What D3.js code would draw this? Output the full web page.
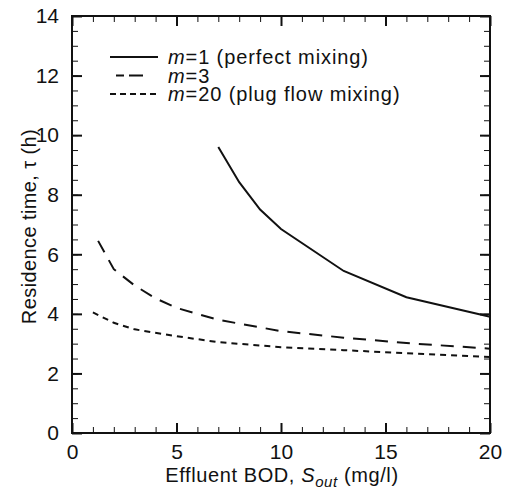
<!DOCTYPE html>
<html>
<head>
<meta charset="utf-8">
<script src="https://cdn.jsdelivr.net/npm/d3@7"></script>
<style>
  body { margin: 0; background: #fff; }
  svg text { font-family: "Liberation Sans", Arial, sans-serif; fill: #111; }
</style>
</head>
<body>
<svg id="chart" width="505" height="491"></svg>
<script>
var width = 505;
var height = 491;
var svg = d3.select('#chart');

// data
var seriesNames = ['m1', 'm3', 'm20'];
var m1X = [7, 8, 9, 10, 13, 16, 20];
var m1Y = [9.6, 8.42, 7.5, 6.85, 5.44, 4.56, 3.9];
var m3X = [1.25, 2, 3, 4, 5, 7, 10, 13, 16, 20];
var m3Y = [6.45, 5.5, 4.95, 4.52, 4.2, 3.8, 3.42, 3.2, 3.02, 2.83];
var m20X = [1, 2, 3, 5, 7, 10, 13, 16, 20];
var m20Y = [4.05, 3.7, 3.48, 3.25, 3.05, 2.88, 2.78, 2.68, 2.55];

var xTicks = [0, 5, 10, 15, 20];
var yTicks = [0, 2, 4, 6, 8, 10, 12, 14];

var padding = { t: 16, r: 15, b: 58, l: 72 };
var chartWidth = width - padding.l - padding.r;
var chartHeight = height - padding.t - padding.b;

var xScale = d3.scaleLinear().domain([0, 20]).range([0, chartWidth]);
var yScale = d3.scaleLinear().domain([0, 14]).range([chartHeight, 0]);

var g = svg.append('g')
    .attr('transform', 'translate(' + padding.l + ',' + padding.t + ')');

// inward ticks on all four sides: minor then major
function tickAxes(axisFn, scale, minorVals, majorVals, transform, pad, labels) {
    g.append('g')
        .attr('transform', transform)
        .call(axisFn(scale).tickValues(minorVals).tickSize(-6).tickFormat(''))
        .call(a => a.select('.domain').remove());
    var ax = g.append('g')
        .attr('transform', transform)
        .call(axisFn(scale).tickValues(majorVals).tickSize(-10)
            .tickPadding(pad)
            .tickFormat(labels ? d3.format('d') : ''));
    ax.select('.domain').remove();
    ax.selectAll('line').attr('stroke-width', 2);
    return ax;
}

var xMinor = d3.range(0, 21, 1);
var yMinor = d3.range(0, 14.01, 0.5);

var bottomAx = tickAxes(d3.axisBottom, xScale, xMinor, xTicks, 'translate(0,' + chartHeight + ')', 11, true);
tickAxes(d3.axisTop, xScale, xMinor, xTicks, 'translate(0,0)', 0, false);
var leftAx = tickAxes(d3.axisLeft, yScale, yMinor, yTicks, 'translate(0,0)', 13, true);
tickAxes(d3.axisRight, yScale, yMinor, yTicks, 'translate(' + chartWidth + ',0)', 0, false);

g.selectAll('.tick line').attr('stroke', '#111');
bottomAx.selectAll('text').style('font-size', '21px');
leftAx.selectAll('text').style('font-size', '21px');

// frame
g.append('rect')
    .attr('width', chartWidth)
    .attr('height', chartHeight)
    .attr('fill', 'none')
    .attr('stroke', '#111')
    .attr('stroke-width', 2);

// curves
var line = d3.line()
    .x(d => xScale(d[0]))
    .y(d => yScale(d[1]));

var dashes = { m1: null, m3: '13,9', m20: '6,5' };
var legendDashes = { m1: null, m3: '8,5,14,30', m20: '6,4' };
var series = {
    m1: d3.zip(m1X, m1Y),
    m3: d3.zip(m3X, m3Y),
    m20: d3.zip(m20X, m20Y)
};

seriesNames.forEach(function (name) {
    g.append('path')
        .datum(series[name])
        .attr('d', line)
        .attr('fill', 'none')
        .attr('stroke', '#111')
        .attr('stroke-width', 2)
        .attr('stroke-dasharray', dashes[name]);
});

// legend
var legendItems = [
    { name: 'm1', m: '1', rest: ' (perfect mixing)' },
    { name: 'm3', m: '3', rest: '' },
    { name: 'm20', m: '20', rest: ' (plug flow mixing)' }
];
var legend = svg.append('g').attr('transform', 'translate(110,57)');
legendItems.forEach(function (it, i) {
    var row = legend.append('g').attr('transform', 'translate(0,' + (i * 18.5) + ')');
    row.append('line')
        .attr('x1', it.name === 'm3' ? 6 : 0).attr('x2', 48)
        .attr('y1', 0).attr('y2', 0)
        .attr('stroke', '#111')
        .attr('stroke-width', 2)
        .attr('stroke-dasharray', legendDashes[it.name]);
    var t = row.append('text')
        .attr('x', 58).attr('y', 7)
        .style('font-size', '20px')
        .style('letter-spacing', '0.9px');
    t.append('tspan').style('font-style', 'italic').text('m');
    t.append('tspan').text('=' + it.m + it.rest);
});

// axis titles
var xt = svg.append('text')
    .attr('x', 282)
    .attr('y', 482)
    .attr('text-anchor', 'middle')
    .style('font-size', '20px')
    .style('letter-spacing', '0.6px');
xt.append('tspan').text('Effluent BOD, ');
xt.append('tspan').style('font-style', 'italic').text('S');
xt.append('tspan').style('font-style', 'italic').style('font-size', '15px').attr('dy', 5).text('out');
xt.append('tspan').attr('dy', -5).text(' (mg/l)');

svg.append('text')
    .attr('transform', 'translate(36,' + (padding.t + chartHeight / 2 + 2) + ') rotate(-90)')
    .attr('text-anchor', 'middle')
    .style('font-size', '20px')
    .style('letter-spacing', '0.4px')
    .text('Residence time, τ (h)');
</script>
</body>
</html>
